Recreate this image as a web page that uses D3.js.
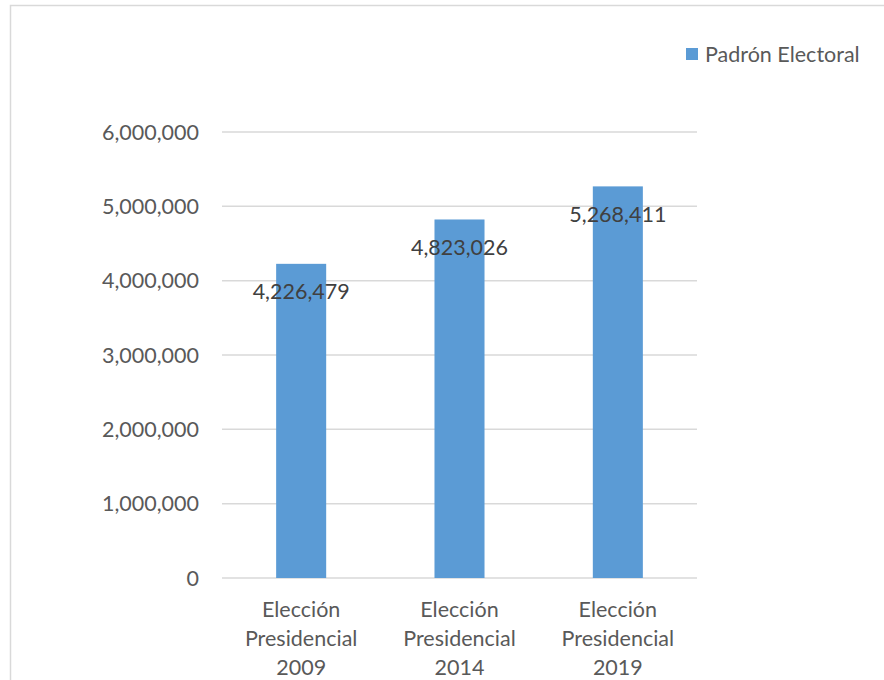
<!DOCTYPE html>
<html><head><meta charset="utf-8">
<script src="https://cdn.jsdelivr.net/npm/d3@7"></script>
<style>body{margin:0;background:#fff}svg{display:block}text{font-family:Lato,"Open Sans",sans-serif}</style>
</head><body><svg id="c" width="884" height="680"></svg>
<script>
const categories = [["Elección","Presidencial","2009"],["Elección","Presidencial","2014"],["Elección","Presidencial","2019"]];
const values = [4226479, 4823026, 5268411];
const yTicks = [0,1000000,2000000,3000000,4000000,5000000,6000000];
const seriesName = "Padrón Electoral";

(function(){
const svg = d3.select("#c");
const W=884,H=680,FS=21.5;
svg.append("rect").attr("x",10.5).attr("y",5.5).attr("width",W).attr("height",H).attr("fill","#fff").attr("stroke","#d9d9d9").attr("stroke-width",1.5);

const pL=222,pR=697,pT=132,pB=578;
const x=d3.scaleBand().domain(d3.range(values.length)).range([pL,pR]).paddingInner(0.684).paddingOuter(0.342);
const y=d3.scaleLinear().domain([0,6000000]).range([pB,pT]);
const fmt=d3.format(",");

svg.append("g").selectAll("line").data(yTicks).join("line")
 .attr("x1",pL).attr("x2",pR).attr("y1",d=>y(d)).attr("y2",d=>y(d))
 .attr("stroke","#d9d9d9").attr("stroke-width",1.5);
svg.append("g").selectAll("text").data(yTicks).join("text")
 .attr("x",199).attr("y",d=>y(d)).attr("dy","0.35em").attr("text-anchor","end")
 .attr("font-size",FS).attr("fill","#595959").text(d=>fmt(d));

svg.append("g").selectAll("rect").data(values).join("rect")
 .attr("x",(d,i)=>x(i)).attr("width",x.bandwidth()).attr("y",d=>y(d)).attr("height",d=>pB-y(d))
 .attr("fill","#5b9bd5");

svg.append("g").selectAll("text").data(values).join("text")
 .attr("x",(d,i)=>x(i)+x.bandwidth()/2).attr("y",d=>y(d)+28).attr("dy","0.35em").attr("text-anchor","middle")
 .attr("font-size",FS).attr("fill","#404040").text(d=>fmt(d));

const cg=svg.append("g");
categories.forEach((lines,i)=>{
  const t=cg.append("text").attr("text-anchor","middle").attr("font-size",FS).attr("fill","#595959");
  lines.forEach((l,j)=>t.append("tspan").attr("x",x(i)+x.bandwidth()/2).attr("y",609+j*29).attr("dy","0.35em").text(l));
});

svg.append("rect").attr("x",686).attr("y",48).attr("width",12).attr("height",12).attr("fill","#5b9bd5");
svg.append("text").attr("x",705).attr("y",54).attr("dy","0.35em").attr("font-size",FS).attr("fill","#595959").text(seriesName);
})();
</script></body></html>
